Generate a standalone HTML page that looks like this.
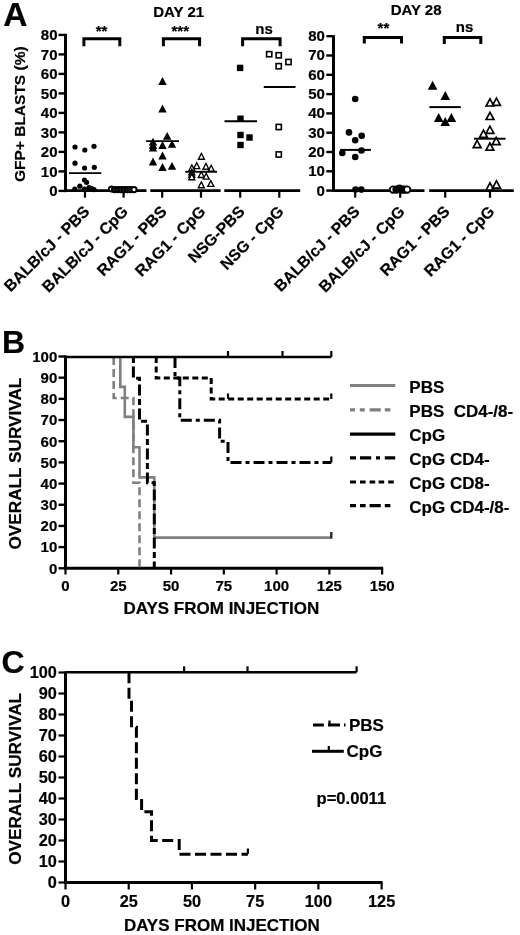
<!DOCTYPE html>
<html><head><meta charset="utf-8"><title>Figure</title>
<style>
html,body{margin:0;padding:0;background:#fff;}
body{width:520px;height:935px;overflow:hidden;}
svg{display:block;filter:grayscale(100%);}
text{font-family:"Liberation Sans",sans-serif;font-weight:bold;fill:#000;stroke:#000;stroke-width:0.2px;}
</style></head>
<body>
<svg width="520" height="935" viewBox="0 0 520 935">
<rect width="520" height="935" fill="#fff"/>
<text x="3.3" y="26.3" font-size="33.5" text-anchor="start" >A</text>
<text x="2" y="352.6" font-size="32" text-anchor="start" >B</text>
<text x="1.5" y="673.2" font-size="32" text-anchor="start" >C</text>
<line x1="65.5" y1="33.9" x2="65.5" y2="192.1" stroke="#000" stroke-width="3" />
<line x1="58.5" y1="190.9" x2="65.5" y2="190.9" stroke="#000" stroke-width="2.4" />
<text x="57.5" y="196.3" font-size="15" text-anchor="end" >0</text>
<line x1="58.5" y1="171.4" x2="65.5" y2="171.4" stroke="#000" stroke-width="2.4" />
<text x="57.5" y="176.8" font-size="15" text-anchor="end" >10</text>
<line x1="58.5" y1="151.9" x2="65.5" y2="151.9" stroke="#000" stroke-width="2.4" />
<text x="57.5" y="157.3" font-size="15" text-anchor="end" >20</text>
<line x1="58.5" y1="132.4" x2="65.5" y2="132.4" stroke="#000" stroke-width="2.4" />
<text x="57.5" y="137.8" font-size="15" text-anchor="end" >30</text>
<line x1="58.5" y1="112.9" x2="65.5" y2="112.9" stroke="#000" stroke-width="2.4" />
<text x="57.5" y="118.3" font-size="15" text-anchor="end" >40</text>
<line x1="58.5" y1="93.4" x2="65.5" y2="93.4" stroke="#000" stroke-width="2.4" />
<text x="57.5" y="98.8" font-size="15" text-anchor="end" >50</text>
<line x1="58.5" y1="73.9" x2="65.5" y2="73.9" stroke="#000" stroke-width="2.4" />
<text x="57.5" y="79.3" font-size="15" text-anchor="end" >60</text>
<line x1="58.5" y1="54.4" x2="65.5" y2="54.4" stroke="#000" stroke-width="2.4" />
<text x="57.5" y="59.8" font-size="15" text-anchor="end" >70</text>
<line x1="58.5" y1="34.9" x2="65.5" y2="34.9" stroke="#000" stroke-width="2.4" />
<text x="57.5" y="40.3" font-size="15" text-anchor="end" >80</text>
<line x1="65.5" y1="190.6" x2="146.5" y2="190.6" stroke="#000" stroke-width="2.6" />
<line x1="150.3" y1="190.6" x2="220.6" y2="190.6" stroke="#000" stroke-width="2.6" />
<line x1="224.3" y1="190.6" x2="300.2" y2="190.6" stroke="#000" stroke-width="2.6" />
<line x1="85" y1="190.6" x2="85" y2="197.7" stroke="#000" stroke-width="2.2" />
<line x1="123.6" y1="190.6" x2="123.6" y2="197.7" stroke="#000" stroke-width="2.2" />
<line x1="162.2" y1="190.6" x2="162.2" y2="197.7" stroke="#000" stroke-width="2.2" />
<line x1="201" y1="190.6" x2="201" y2="197.7" stroke="#000" stroke-width="2.2" />
<line x1="240.2" y1="190.6" x2="240.2" y2="197.7" stroke="#000" stroke-width="2.2" />
<line x1="279.3" y1="190.6" x2="279.3" y2="197.7" stroke="#000" stroke-width="2.2" />
<text transform="translate(24.8 114.2) rotate(-90)" font-size="15.5" text-anchor="middle">GFP+ BLASTS (%)</text>
<text x="178.7" y="17.4" font-size="15" text-anchor="middle" >DAY 21</text>
<path d="M83.9 46.3V38.7H119.8V46.3" fill="none" stroke="#000" stroke-width="3"/>
<path d="M163.4 46.3V38.7H199.6V46.3" fill="none" stroke="#000" stroke-width="3"/>
<path d="M242.6 46.3V38.7H280.1V46.3" fill="none" stroke="#000" stroke-width="3"/>
<text x="101.6" y="36.3" font-size="15" text-anchor="middle" >**</text>
<text x="180.3" y="36.3" font-size="15" text-anchor="middle" >***</text>
<text x="264" y="34.2" font-size="15" text-anchor="middle" >ns</text>
<circle cx="75" cy="147" r="2.6" fill="#000"/>
<circle cx="84.8" cy="150" r="2.6" fill="#000"/>
<circle cx="94" cy="146.3" r="2.6" fill="#000"/>
<circle cx="75" cy="163.2" r="2.6" fill="#000"/>
<circle cx="84.6" cy="168" r="2.6" fill="#000"/>
<circle cx="94.3" cy="167.3" r="2.6" fill="#000"/>
<circle cx="84.5" cy="180" r="2.6" fill="#000"/>
<circle cx="86.6" cy="182.3" r="2.6" fill="#000"/>
<circle cx="79.8" cy="186.2" r="2.6" fill="#000"/>
<circle cx="74.8" cy="189.2" r="2.6" fill="#000"/>
<circle cx="84.5" cy="189.2" r="2.6" fill="#000"/>
<circle cx="89" cy="187.7" r="2.6" fill="#000"/>
<circle cx="91.8" cy="188.7" r="2.6" fill="#000"/>
<circle cx="94" cy="189.6" r="2.6" fill="#000"/>
<line x1="69" y1="173.1" x2="101.3" y2="173.1" stroke="#000" stroke-width="1.9" />
<circle cx="111.5" cy="189" r="2.6" fill="#fff" stroke="#000" stroke-width="2.0"/>
<circle cx="114.5" cy="189.6" r="2.6" fill="#333" stroke="#000" stroke-width="2.0"/>
<circle cx="117.8" cy="189.6" r="2.6" fill="#333" stroke="#000" stroke-width="2.0"/>
<circle cx="121" cy="189.6" r="2.6" fill="#333" stroke="#000" stroke-width="2.0"/>
<circle cx="124.2" cy="189.6" r="2.6" fill="#333" stroke="#000" stroke-width="2.0"/>
<circle cx="127.5" cy="189.6" r="2.6" fill="#333" stroke="#000" stroke-width="2.0"/>
<circle cx="130.8" cy="189.6" r="2.6" fill="#333" stroke="#000" stroke-width="2.0"/>
<circle cx="134" cy="189.6" r="2.6" fill="#fff" stroke="#000" stroke-width="2.0"/>
<path d="M162.5 77.1L166.7 84.9H158.3Z" fill="#000"/>
<path d="M162.5 104.6L166.7 112.4H158.3Z" fill="#000"/>
<path d="M167.2 132L171.4 139.8H163Z" fill="#000"/>
<path d="M153 137.7L157.2 145.5H148.8Z" fill="#000"/>
<path d="M153 141.1L157.2 148.9H148.8Z" fill="#000"/>
<path d="M153 143.8L157.2 151.6H148.8Z" fill="#000"/>
<path d="M162.5 141.1L166.7 148.9H158.3Z" fill="#000"/>
<path d="M172 140L176.2 147.8H167.8Z" fill="#000"/>
<path d="M162.5 151.6L166.7 159.4H158.3Z" fill="#000"/>
<path d="M153 157.6L157.2 165.4H148.8Z" fill="#000"/>
<path d="M162.5 163.1L166.7 170.9H158.3Z" fill="#000"/>
<path d="M172 161.9L176.2 169.7H167.8Z" fill="#000"/>
<line x1="146" y1="141.1" x2="179" y2="141.1" stroke="#000" stroke-width="1.9" />
<path d="M201.4 153.4L204.4 159.2H198.4Z" fill="#fff" stroke="#000" stroke-width="1.35" stroke-linejoin="miter"/>
<path d="M196.7 162.8L199.7 168.6H193.7Z" fill="#fff" stroke="#000" stroke-width="1.35" stroke-linejoin="miter"/>
<path d="M205.9 163.4L208.9 169.2H202.9Z" fill="#fff" stroke="#000" stroke-width="1.35" stroke-linejoin="miter"/>
<path d="M191.8 164.9L194.8 170.7H188.8Z" fill="#fff" stroke="#000" stroke-width="1.35" stroke-linejoin="miter"/>
<path d="M211.2 165.3L214.2 171.1H208.2Z" fill="#fff" stroke="#000" stroke-width="1.35" stroke-linejoin="miter"/>
<path d="M191.8 169.1L194.8 174.9H188.8Z" fill="#fff" stroke="#000" stroke-width="1.35" stroke-linejoin="miter"/>
<path d="M191.8 171.6L194.8 177.4H188.8Z" fill="#fff" stroke="#000" stroke-width="1.35" stroke-linejoin="miter"/>
<path d="M191.8 173.9L194.8 179.7H188.8Z" fill="#fff" stroke="#000" stroke-width="1.35" stroke-linejoin="miter"/>
<path d="M201.3 171.7L204.3 177.5H198.3Z" fill="#fff" stroke="#000" stroke-width="1.35" stroke-linejoin="miter"/>
<path d="M206.2 173.3L209.2 179.1H203.2Z" fill="#fff" stroke="#000" stroke-width="1.35" stroke-linejoin="miter"/>
<path d="M201.3 181.9L204.3 187.7H198.3Z" fill="#fff" stroke="#000" stroke-width="1.35" stroke-linejoin="miter"/>
<path d="M210.8 180.6L213.8 186.4H207.8Z" fill="#fff" stroke="#000" stroke-width="1.35" stroke-linejoin="miter"/>
<line x1="185.3" y1="171.8" x2="217" y2="171.8" stroke="#000" stroke-width="1.9" />
<rect x="236.9" y="64.7" width="6.4" height="6.4" fill="#000"/>
<rect x="237.3" y="115.55" width="6.4" height="6.4" fill="#000"/>
<rect x="237.3" y="131.8" width="6.4" height="6.4" fill="#000"/>
<rect x="246.3" y="134.3" width="6.4" height="6.4" fill="#000"/>
<rect x="237.3" y="141.8" width="6.4" height="6.4" fill="#000"/>
<line x1="224.5" y1="121.25" x2="257" y2="121.25" stroke="#000" stroke-width="1.9" />
<rect x="266.6" y="51.6" width="5.2" height="5.2" fill="#fff" stroke="#000" stroke-width="1.6"/>
<rect x="276.1" y="52.7" width="5.2" height="5.2" fill="#fff" stroke="#000" stroke-width="1.6"/>
<rect x="285.9" y="59.4" width="5.2" height="5.2" fill="#fff" stroke="#000" stroke-width="1.6"/>
<rect x="276.1" y="63.6" width="5.2" height="5.2" fill="#fff" stroke="#000" stroke-width="1.6"/>
<rect x="276.15" y="124.4" width="5.2" height="5.2" fill="#fff" stroke="#000" stroke-width="1.6"/>
<rect x="276.15" y="151.9" width="5.2" height="5.2" fill="#fff" stroke="#000" stroke-width="1.6"/>
<line x1="263.75" y1="87" x2="295.5" y2="87" stroke="#000" stroke-width="1.9" />
<text transform="translate(90.5 212.6) rotate(-45)" font-size="15.9" text-anchor="end">BALB/cJ - PBS</text>
<text transform="translate(129.1 212.6) rotate(-45)" font-size="15.9" text-anchor="end">BALB/cJ - CpG</text>
<text transform="translate(167.7 212.6) rotate(-45)" font-size="15.9" text-anchor="end">RAG1 - PBS</text>
<text transform="translate(206.5 212.6) rotate(-45)" font-size="15.9" text-anchor="end">RAG1 - CpG</text>
<text transform="translate(245.7 212.6) rotate(-45)" font-size="15.9" text-anchor="end">NSG-PBS</text>
<text transform="translate(284.8 212.6) rotate(-45)" font-size="15.9" text-anchor="end">NSG - CpG</text>
<line x1="333.5" y1="35.2" x2="333.5" y2="191.8" stroke="#000" stroke-width="3" />
<line x1="326.3" y1="190.6" x2="333.5" y2="190.6" stroke="#000" stroke-width="2.4" />
<text x="324.9" y="195.5" font-size="15" text-anchor="end" >0</text>
<line x1="326.3" y1="171.3" x2="333.5" y2="171.3" stroke="#000" stroke-width="2.4" />
<text x="324.9" y="176.2" font-size="15" text-anchor="end" >10</text>
<line x1="326.3" y1="152" x2="333.5" y2="152" stroke="#000" stroke-width="2.4" />
<text x="324.9" y="156.9" font-size="15" text-anchor="end" >20</text>
<line x1="326.3" y1="132.7" x2="333.5" y2="132.7" stroke="#000" stroke-width="2.4" />
<text x="324.9" y="137.6" font-size="15" text-anchor="end" >30</text>
<line x1="326.3" y1="113.4" x2="333.5" y2="113.4" stroke="#000" stroke-width="2.4" />
<text x="324.9" y="118.3" font-size="15" text-anchor="end" >40</text>
<line x1="326.3" y1="94.1" x2="333.5" y2="94.1" stroke="#000" stroke-width="2.4" />
<text x="324.9" y="99" font-size="15" text-anchor="end" >50</text>
<line x1="326.3" y1="74.8" x2="333.5" y2="74.8" stroke="#000" stroke-width="2.4" />
<text x="324.9" y="79.7" font-size="15" text-anchor="end" >60</text>
<line x1="326.3" y1="55.5" x2="333.5" y2="55.5" stroke="#000" stroke-width="2.4" />
<text x="324.9" y="60.4" font-size="15" text-anchor="end" >70</text>
<line x1="326.3" y1="36.2" x2="333.5" y2="36.2" stroke="#000" stroke-width="2.4" />
<text x="324.9" y="41.1" font-size="15" text-anchor="end" >80</text>
<line x1="333.5" y1="190.6" x2="424.5" y2="190.6" stroke="#000" stroke-width="2.6" />
<line x1="429.2" y1="190.6" x2="513.8" y2="190.6" stroke="#000" stroke-width="2.6" />
<line x1="355.2" y1="190.6" x2="355.2" y2="197.7" stroke="#000" stroke-width="2.2" />
<line x1="400.2" y1="190.6" x2="400.2" y2="197.7" stroke="#000" stroke-width="2.2" />
<line x1="445.2" y1="190.6" x2="445.2" y2="197.7" stroke="#000" stroke-width="2.2" />
<line x1="490" y1="190.6" x2="490" y2="197.7" stroke="#000" stroke-width="2.2" />
<text x="416.1" y="14.8" font-size="15" text-anchor="middle" >DAY 28</text>
<path d="M364.3 43.6V37.4H401.5V43.6" fill="none" stroke="#000" stroke-width="3"/>
<path d="M444.3 44V37.4H480.8V44" fill="none" stroke="#000" stroke-width="3"/>
<text x="383.4" y="32.8" font-size="15" text-anchor="middle" >**</text>
<text x="464.6" y="32.3" font-size="15" text-anchor="middle" >ns</text>
<circle cx="355.2" cy="99" r="3.3" fill="#000"/>
<circle cx="349" cy="132.4" r="3.3" fill="#000"/>
<circle cx="361.7" cy="135.7" r="3.3" fill="#000"/>
<circle cx="355.2" cy="140.2" r="3.3" fill="#000"/>
<circle cx="342.3" cy="153" r="3.3" fill="#000"/>
<circle cx="361.5" cy="150.5" r="3.3" fill="#000"/>
<circle cx="355.2" cy="157" r="3.3" fill="#000"/>
<circle cx="355.5" cy="189.6" r="3.3" fill="#000"/>
<circle cx="361.3" cy="189.6" r="3.3" fill="#000"/>
<line x1="340.2" y1="149.9" x2="370.9" y2="149.9" stroke="#000" stroke-width="2" />
<circle cx="393" cy="189.6" r="3.2" fill="#fff" stroke="#000" stroke-width="1.9"/>
<circle cx="396.5" cy="189.6" r="3.2" fill="#111" stroke="#000" stroke-width="1.9"/>
<circle cx="399.5" cy="188.6" r="3.2" fill="#111" stroke="#000" stroke-width="1.9"/>
<circle cx="402.5" cy="189.6" r="3.2" fill="#111" stroke="#000" stroke-width="1.9"/>
<circle cx="404.5" cy="189.6" r="3.2" fill="#111" stroke="#000" stroke-width="1.9"/>
<circle cx="407.2" cy="189.6" r="3.2" fill="#fff" stroke="#000" stroke-width="1.9"/>
<path d="M432.6 80.7L437.4 89.7H427.8Z" fill="#000"/>
<path d="M445.3 91.1L450.1 100.1H440.5Z" fill="#000"/>
<path d="M438.7 112.9L443.5 121.9H433.9Z" fill="#000"/>
<path d="M451.4 112.9L456.2 121.9H446.6Z" fill="#000"/>
<path d="M445.2 116.9L450 125.9H440.4Z" fill="#000"/>
<line x1="429.4" y1="107.1" x2="460.8" y2="107.1" stroke="#000" stroke-width="2" />
<path d="M490 98.8L493.9 106H486.1Z" fill="#fff" stroke="#000" stroke-width="1.7" stroke-linejoin="miter"/>
<path d="M496.5 98.1L500.4 105.3H492.6Z" fill="#fff" stroke="#000" stroke-width="1.7" stroke-linejoin="miter"/>
<path d="M490 112.3L493.9 119.5H486.1Z" fill="#fff" stroke="#000" stroke-width="1.7" stroke-linejoin="miter"/>
<path d="M489.9 126.2L493.8 133.4H486Z" fill="#fff" stroke="#000" stroke-width="1.7" stroke-linejoin="miter"/>
<path d="M483.5 130.1L487.4 137.3H479.6Z" fill="#fff" stroke="#000" stroke-width="1.7" stroke-linejoin="miter"/>
<path d="M496.2 137.4L500.1 144.6H492.3Z" fill="#fff" stroke="#000" stroke-width="1.7" stroke-linejoin="miter"/>
<path d="M477.1 140.4L481 147.6H473.2Z" fill="#fff" stroke="#000" stroke-width="1.7" stroke-linejoin="miter"/>
<path d="M489.9 143L493.8 150.2H486Z" fill="#fff" stroke="#000" stroke-width="1.7" stroke-linejoin="miter"/>
<path d="M490 182.9L493.9 190.1H486.1Z" fill="#fff" stroke="#000" stroke-width="1.7" stroke-linejoin="miter"/>
<path d="M496.5 180.9L500.4 188.1H492.6Z" fill="#fff" stroke="#000" stroke-width="1.7" stroke-linejoin="miter"/>
<line x1="474" y1="138.7" x2="505.5" y2="138.7" stroke="#000" stroke-width="2" />
<text transform="translate(360.7 212.6) rotate(-45)" font-size="15.9" text-anchor="end">BALB/cJ - PBS</text>
<text transform="translate(405.7 212.6) rotate(-45)" font-size="15.9" text-anchor="end">BALB/cJ - CpG</text>
<text transform="translate(450.7 212.6) rotate(-45)" font-size="15.9" text-anchor="end">RAG1 - PBS</text>
<text transform="translate(495.5 212.6) rotate(-45)" font-size="15.9" text-anchor="end">RAG1 - CpG</text>
<line x1="65.5" y1="355.5" x2="65.5" y2="569.6" stroke="#000" stroke-width="3" />
<line x1="64" y1="568.3" x2="383.15" y2="568.3" stroke="#000" stroke-width="3" />
<line x1="58.5" y1="568.3" x2="65.5" y2="568.3" stroke="#000" stroke-width="2.4" />
<text x="57.3" y="573.6" font-size="15" text-anchor="end" >0</text>
<line x1="58.5" y1="547.12" x2="65.5" y2="547.12" stroke="#000" stroke-width="2.4" />
<text x="57.3" y="552.42" font-size="15" text-anchor="end" >10</text>
<line x1="58.5" y1="525.94" x2="65.5" y2="525.94" stroke="#000" stroke-width="2.4" />
<text x="57.3" y="531.24" font-size="15" text-anchor="end" >20</text>
<line x1="58.5" y1="504.76" x2="65.5" y2="504.76" stroke="#000" stroke-width="2.4" />
<text x="57.3" y="510.06" font-size="15" text-anchor="end" >30</text>
<line x1="58.5" y1="483.58" x2="65.5" y2="483.58" stroke="#000" stroke-width="2.4" />
<text x="57.3" y="488.88" font-size="15" text-anchor="end" >40</text>
<line x1="58.5" y1="462.4" x2="65.5" y2="462.4" stroke="#000" stroke-width="2.4" />
<text x="57.3" y="467.7" font-size="15" text-anchor="end" >50</text>
<line x1="58.5" y1="441.22" x2="65.5" y2="441.22" stroke="#000" stroke-width="2.4" />
<text x="57.3" y="446.52" font-size="15" text-anchor="end" >60</text>
<line x1="58.5" y1="420.04" x2="65.5" y2="420.04" stroke="#000" stroke-width="2.4" />
<text x="57.3" y="425.34" font-size="15" text-anchor="end" >70</text>
<line x1="58.5" y1="398.86" x2="65.5" y2="398.86" stroke="#000" stroke-width="2.4" />
<text x="57.3" y="404.16" font-size="15" text-anchor="end" >80</text>
<line x1="58.5" y1="377.68" x2="65.5" y2="377.68" stroke="#000" stroke-width="2.4" />
<text x="57.3" y="382.98" font-size="15" text-anchor="end" >90</text>
<line x1="58.5" y1="356.5" x2="65.5" y2="356.5" stroke="#000" stroke-width="2.4" />
<text x="57.3" y="361.8" font-size="15" text-anchor="end" >100</text>
<line x1="65.5" y1="568.3" x2="65.5" y2="574.5" stroke="#000" stroke-width="2.2" />
<text x="65.5" y="591.3" font-size="15" text-anchor="middle" >0</text>
<line x1="118.28" y1="568.3" x2="118.28" y2="574.5" stroke="#000" stroke-width="2.2" />
<text x="118.28" y="591.3" font-size="15" text-anchor="middle" >25</text>
<line x1="171.05" y1="568.3" x2="171.05" y2="574.5" stroke="#000" stroke-width="2.2" />
<text x="171.05" y="591.3" font-size="15" text-anchor="middle" >50</text>
<line x1="223.83" y1="568.3" x2="223.83" y2="574.5" stroke="#000" stroke-width="2.2" />
<text x="223.83" y="591.3" font-size="15" text-anchor="middle" >75</text>
<line x1="276.6" y1="568.3" x2="276.6" y2="574.5" stroke="#000" stroke-width="2.2" />
<text x="276.6" y="591.3" font-size="15" text-anchor="middle" >100</text>
<line x1="329.38" y1="568.3" x2="329.38" y2="574.5" stroke="#000" stroke-width="2.2" />
<text x="329.38" y="591.3" font-size="15" text-anchor="middle" >125</text>
<line x1="382.15" y1="568.3" x2="382.15" y2="574.5" stroke="#000" stroke-width="2.2" />
<text x="382.15" y="591.3" font-size="15" text-anchor="middle" >150</text>
<text x="221.4" y="613.6" font-size="17" text-anchor="middle" >DAYS FROM INJECTION</text>
<text transform="translate(20.8 463.6) rotate(-90)" font-size="17.2" text-anchor="middle">OVERALL SURVIVAL</text>
<path d="M120.3 357V386.9H124.8V416.9H133.4V447.2H139.5V477.4H154.3V537.6H331.3" fill="none" stroke="#808080" stroke-width="2.6" />
<path d="M331.3 538.6V532" fill="none" stroke="#222" stroke-width="2.3" />
<path d="M113.7 357V398H133.4V482.8H139.5V568.3" fill="none" stroke="#808080" stroke-width="2.6" stroke-dasharray="8 4" />
<path d="M133.4 357V378.3H139.5V421.3H147.4V482.8H154.3V568.3" fill="none" stroke="#000" stroke-width="3.0" stroke-dasharray="6 3.5 11 3.5" />
<path d="M175 357V378H179.8V420.2H219.6V441.3H228V462.5H331.3" fill="none" stroke="#000" stroke-width="3.0" stroke-dasharray="11 4 4 4" />
<path d="M331.3 462.5V456.5" fill="none" stroke="#000" stroke-width="2.2" />
<path d="M156.2 357V377.9H211.2V399H331.3" fill="none" stroke="#000" stroke-width="3.0" stroke-dasharray="6 3.5" />
<path d="M228 399V393.5" fill="none" stroke="#000" stroke-width="2.2" />
<path d="M331.3 399V393.5" fill="none" stroke="#000" stroke-width="2.2" />
<path d="M65.5 357H331.3" fill="none" stroke="#000" stroke-width="2.5" />
<path d="M228 357V351" fill="none" stroke="#000" stroke-width="2.2" />
<path d="M282.5 357V351" fill="none" stroke="#000" stroke-width="2.2" />
<path d="M331.3 357V351" fill="none" stroke="#000" stroke-width="2.2" />
<path d="M350 385.6H395.3" fill="none" stroke="#808080" stroke-width="3.0" />
<text x="409.3" y="392.6" font-size="17" text-anchor="start" >PBS</text>
<path d="M350 409.8H390.6" fill="none" stroke="#808080" stroke-width="3.2" stroke-dasharray="5 4.8 5 4.8 11.2 4 5.6 9" />
<text x="409.3" y="416.8" font-size="17" text-anchor="start" >PBS&#160;&#160;CD4-/8-</text>
<path d="M350 434.2H395.3" fill="none" stroke="#000" stroke-width="3.2" />
<text x="409.3" y="441.2" font-size="17" text-anchor="start" >CpG</text>
<path d="M350 457.9H395.3" fill="none" stroke="#000" stroke-width="3.2" stroke-dasharray="6 4 11.2 4.8 4 4.8 10.4 9" />
<text x="409.3" y="464.9" font-size="17" text-anchor="start" >CpG CD4-</text>
<path d="M350 482.0H393.8" fill="none" stroke="#000" stroke-width="3.2" stroke-dasharray="6 4 5.6 4 5.6 3.4 5.6 4 5.6 9" />
<text x="409.3" y="489" font-size="17" text-anchor="start" >CpG CD8-</text>
<path d="M350 505.6H390.6" fill="none" stroke="#000" stroke-width="3.2" stroke-dasharray="6 4 5.6 4 11.2 4 5.6 9" />
<text x="409.3" y="512.6" font-size="17" text-anchor="start" >CpG CD4-/8-</text>
<line x1="65.5" y1="671.5" x2="65.5" y2="883.8" stroke="#000" stroke-width="3" />
<line x1="64" y1="882.5" x2="382.62" y2="882.5" stroke="#000" stroke-width="3" />
<line x1="58.5" y1="882.5" x2="65.5" y2="882.5" stroke="#000" stroke-width="2.2" />
<text x="56.9" y="888.1" font-size="16.3" text-anchor="end" >0</text>
<line x1="58.5" y1="861.5" x2="65.5" y2="861.5" stroke="#000" stroke-width="2.2" />
<text x="56.9" y="867.1" font-size="16.3" text-anchor="end" >10</text>
<line x1="58.5" y1="840.5" x2="65.5" y2="840.5" stroke="#000" stroke-width="2.2" />
<text x="56.9" y="846.1" font-size="16.3" text-anchor="end" >20</text>
<line x1="58.5" y1="819.5" x2="65.5" y2="819.5" stroke="#000" stroke-width="2.2" />
<text x="56.9" y="825.1" font-size="16.3" text-anchor="end" >30</text>
<line x1="58.5" y1="798.5" x2="65.5" y2="798.5" stroke="#000" stroke-width="2.2" />
<text x="56.9" y="804.1" font-size="16.3" text-anchor="end" >40</text>
<line x1="58.5" y1="777.5" x2="65.5" y2="777.5" stroke="#000" stroke-width="2.2" />
<text x="56.9" y="783.1" font-size="16.3" text-anchor="end" >50</text>
<line x1="58.5" y1="756.5" x2="65.5" y2="756.5" stroke="#000" stroke-width="2.2" />
<text x="56.9" y="762.1" font-size="16.3" text-anchor="end" >60</text>
<line x1="58.5" y1="735.5" x2="65.5" y2="735.5" stroke="#000" stroke-width="2.2" />
<text x="56.9" y="741.1" font-size="16.3" text-anchor="end" >70</text>
<line x1="58.5" y1="714.5" x2="65.5" y2="714.5" stroke="#000" stroke-width="2.2" />
<text x="56.9" y="720.1" font-size="16.3" text-anchor="end" >80</text>
<line x1="58.5" y1="693.5" x2="65.5" y2="693.5" stroke="#000" stroke-width="2.2" />
<text x="56.9" y="699.1" font-size="16.3" text-anchor="end" >90</text>
<line x1="58.5" y1="672.5" x2="65.5" y2="672.5" stroke="#000" stroke-width="2.2" />
<text x="56.9" y="678.1" font-size="16.3" text-anchor="end" >100</text>
<line x1="65.5" y1="882.5" x2="65.5" y2="889.5" stroke="#000" stroke-width="2.2" />
<text x="65.5" y="907.2" font-size="16.3" text-anchor="middle" >0</text>
<line x1="128.72" y1="882.5" x2="128.72" y2="889.5" stroke="#000" stroke-width="2.2" />
<text x="128.72" y="907.2" font-size="16.3" text-anchor="middle" >25</text>
<line x1="191.95" y1="882.5" x2="191.95" y2="889.5" stroke="#000" stroke-width="2.2" />
<text x="191.95" y="907.2" font-size="16.3" text-anchor="middle" >50</text>
<line x1="255.17" y1="882.5" x2="255.17" y2="889.5" stroke="#000" stroke-width="2.2" />
<text x="255.17" y="907.2" font-size="16.3" text-anchor="middle" >75</text>
<line x1="318.4" y1="882.5" x2="318.4" y2="889.5" stroke="#000" stroke-width="2.2" />
<text x="318.4" y="907.2" font-size="16.3" text-anchor="middle" >100</text>
<line x1="381.62" y1="882.5" x2="381.62" y2="889.5" stroke="#000" stroke-width="2.2" />
<text x="381.62" y="907.2" font-size="16.3" text-anchor="middle" >125</text>
<text x="221.8" y="931.2" font-size="17" text-anchor="middle" >DAYS FROM INJECTION</text>
<text transform="translate(20.8 778.9) rotate(-90)" font-size="17.2" text-anchor="middle">OVERALL SURVIVAL</text>
<path d="M129 672.2V699.5H131.5V727.3H136.4V798.5H141.6V811.8H151.5V840.5H179.2V854.2H247.9" fill="none" stroke="#000" stroke-width="3.0" stroke-dasharray="11 4.5" />
<path d="M247.9 854V848.5" fill="none" stroke="#000" stroke-width="2.2" />
<path d="M65.5 672.2H356.6" fill="none" stroke="#000" stroke-width="2.6" />
<path d="M184.1 672.2V666.3" fill="none" stroke="#000" stroke-width="2.2" />
<path d="M247.5 672.2V666.3" fill="none" stroke="#000" stroke-width="2.2" />
<path d="M356.6 672.2V666.3" fill="none" stroke="#000" stroke-width="2.2" />
<path d="M313 725H323.8M328 725H340M344 725H345.5" fill="none" stroke="#000" stroke-width="2.8" />
<path d="M329.5 725V720.5" fill="none" stroke="#000" stroke-width="2.2" />
<text x="349" y="730.7" font-size="17" text-anchor="start" >PBS</text>
<path d="M312 751.3H343.8" fill="none" stroke="#000" stroke-width="3" />
<path d="M328.8 751.3V746" fill="none" stroke="#000" stroke-width="2.2" />
<text x="346.5" y="756.5" font-size="17" text-anchor="start" >CpG</text>
<text x="316.5" y="803.8" font-size="16.6" text-anchor="start" >p=0.0011</text>
</svg>
</body></html>
